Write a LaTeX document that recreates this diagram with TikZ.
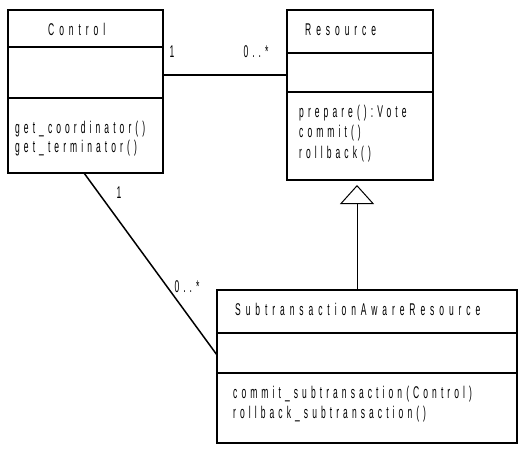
\documentclass[tikz,border=0pt]{standalone}
\usepackage{fontspec}
\setmainfont{Liberation Sans}
\newfontfamily\opfont{Liberation Sans}[FakeStretch=0.5, LetterSpace=24]
\newfontfamily\ttlfont{Liberation Sans}[FakeStretch=0.5, LetterSpace=29]
\usetikzlibrary{arrows.meta}
\tikzset{
  classbox/.style={draw, line width=2pt, rectangle, inner sep=0pt},
  divider/.style={line width=2pt},
  assoc/.style={line width=1.5pt},
  inherit/.style={line width=1pt, -{Triangle[open, length=19pt, width=34pt]}},
  ttl/.style={anchor=base west, inner sep=0pt, font=\ttlfont\fontsize{17}{20}\selectfont},
  ops/.style={anchor=base west, inner sep=0pt, font=\opfont\fontsize{17}{20}\selectfont},
  mult/.style={inner sep=0pt, font=\opfont\fontsize{17}{20}\selectfont},
}
\begin{document}
\begin{tikzpicture}[x=1pt, y=-1pt]
\useasboundingbox (0,0) rectangle (524,450);
% Control
\node[classbox, minimum width=155pt, minimum height=163pt] (control) at (85.5,91.5) {};
\draw[divider] (8,47) -- (163,47);
\draw[divider] (8,98) -- (163,98);
\node[ttl] (controlname) at (48,35) {Control};
\node[ops] (cop1) at (15,133) {get\_coordinator()};
\node[ops] (cop2) at (15,152) {get\_terminator()};
% Resource
\node[classbox, minimum width=146pt, minimum height=170pt] (resource) at (360,95) {};
\draw[divider] (287,53) -- (433,53);
\draw[divider] (287,92) -- (433,92);
\node[ttl] (resourcename) at (305,35) {Resource};
\node[ops] (rop1) at (299,117) {prepare():Vote};
\node[ops] (rop2) at (299,137) {commit()};
\node[ops] (rop3) at (299,158) {rollback()};
% SubtransactionAwareResource
\node[classbox, minimum width=300pt, minimum height=153pt] (sub) at (367,366.5) {};
\draw[divider] (217,333) -- (517,333);
\draw[divider] (217,373) -- (517,373);
\node[ttl] (subname) at (235,315) {SubtransactionAwareResource};
\node[ops] (sop1) at (233,398) {commit\_subtransaction(Control)};
\node[ops] (sop2) at (233,418) {rollback\_subtransaction()};
% associations
\coordinate (ctrlA) at (163,75);
\coordinate (resA) at (287,75);
\draw[assoc] (ctrlA) -- (resA);
\node[mult] (m1) at (172,52) {1};
\node[mult] (m2) at (256,52) {0..*};
\coordinate (ctrlB) at (84,173);
\coordinate (subB) at (217,355);
\draw[assoc] (ctrlB) -- (subB);
\node[mult] (m3) at (119,193) {1};
\node[mult] (m4) at (187,287) {0..*};
% generalization
\coordinate (subTop) at (357,290);
\coordinate (apex) at (357,185);
\draw[inherit] (subTop) -- (apex);
\end{tikzpicture}
\end{document}
